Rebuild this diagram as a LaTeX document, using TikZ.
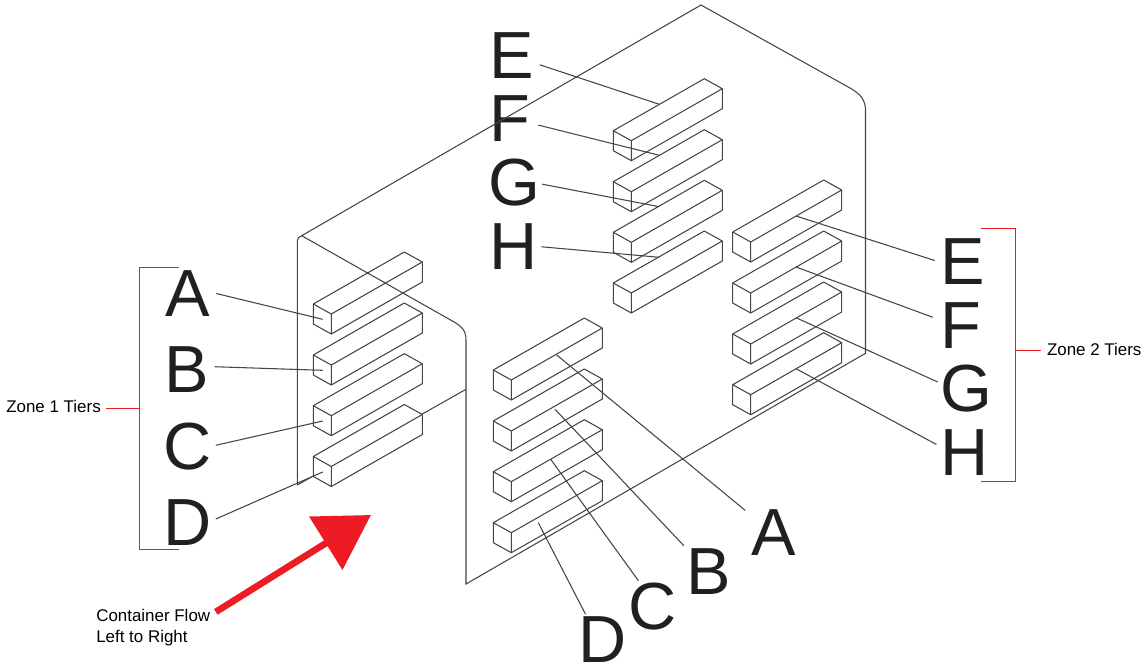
\documentclass[tikz,border=0pt]{standalone}
\usepackage{fontspec}
\setmainfont{Liberation Sans}
\usetikzlibrary{arrows.meta}
\definecolor{flowred}{HTML}{ED1C24}
\definecolor{inkline}{HTML}{454545}
\definecolor{inkletter}{HTML}{231F20}
\tikzset{
    panelline/.style={draw=inkline, line width=0.8pt},
    tierline/.style={draw=inkline, line width=0.8pt, line join=round},
    leaderline/.style={draw=inkline, line width=0.8pt},
    tierletter/.style={font=\fontsize{50}{50}\selectfont, text=inkletter, text height=36pt, text depth=0pt, minimum width=42pt, minimum height=36pt, inner sep=0pt},
    smalltext/.style={font=\fontsize{12.7}{15.75}\selectfont, text=black, align=left, inner xsep=4pt, inner ysep=0pt},
    bracketline/.style={draw=flowred, line width=0.8pt}
}
\begin{document}
\begin{tikzpicture}[x=0.75pt, y=-0.75pt]
    \useasboundingbox (0,0) rectangle (1143,665);

    % Letters and leaders
    \foreach \name/\val/\lx/\ly/\ang/\ex/\ey in {
        la/A/188/292.5/-2/322.7/319.3,
        lb/B/186.5/368.7/4/322.7/370.3,
        lc/C/187.5/445.3/0/322.7/421,
        ld/D/187.5/521/4/322.7/472,
        ma/A/773.5/531.7/143/556.7/355,
        mb/B/709/570/136/555/409.3,
        mc/C/653/605/121/550.7/459.3,
        md/D/602.5/638.5/125/538.3/522.7,
        ue/E/511.5/54.5/-20/659.3/104.3,
        uf/F/510/117.5/-15/659.3/155.3,
        ug/G/514/181.7/-5/659.3/206.7,
        uh/H/513.2/245.3/-3/659.3/257.3,
        re/E/963/260.5/180/796/216,
        rf/F/961/324.3/166/796/267,
        rg/G/966/387.5/169/796/317.7,
        rh/H/964.7/451/167/796/368.7
    } {
        \node[tierletter] (\name) at (\lx,\ly) {\val};
        \coordinate (\name tip) at (\ex,\ey);
        \draw[leaderline] (\name.\ang) -- (\name tip);
    }

    % Panels
    \draw[panelline] (297.3,485) -- (297.3,241) .. controls (297.3,238) and (299,237) .. (301.7,235.7)
        -- (701,5) -- (850,88) .. controls (860,93.5) and (865.5,100) .. (865.5,110)
        -- (865.5,353.3) -- (466,584) -- (466,340) .. controls (466,330) and (461,326) .. (455,322.5)
        -- (301.7,235.7);
    \draw[panelline] (297.3,485) -- (313.3,476);
    \draw[panelline] (422.3,414) -- (466,389.3);

    % Tiers
    \foreach \x/\y in {
        313.3/304, 313.3/355, 313.3/405.7, 313.3/456.5,
        493.3/370, 493.3/421, 493.3/471.7, 493.3/522.7,
        613.3/130.7, 613.3/181.7, 613.3/232.3, 613.3/283,
        732.7/232, 732.7/283, 732.7/334, 732.7/384.7
    } {
        \draw[tierline] (\x,\y) -- ++(18,10) -- ++(91,-52) -- ++(-18,-10) -- cycle;
        \draw[tierline] (\x,\y) -- ++(0,20) -- ++(18,10) -- ++(0,-20);
        \draw[tierline] (\x+18,\y+30) -- ++(91,-52) -- ++(0,-20);
    }

    % Zone brackets
    \node[smalltext, anchor=west] (zoneone) at (0.7,406.2) {Zone 1 Tiers};
    \node[smalltext, anchor=west] (zonetwo) at (1041.4,349.5) {Zone 2 Tiers};
    \coordinate (zoneonejoin) at (139.5,408.3);
    \coordinate (zonetwojoin) at (1015.5,350.3);
    \draw[bracketline] (178.7,267.5) -- (139.5,267.5) -- (139.5,549.5) -- (178.7,549.5);
    \draw[bracketline] (981,228.5) -- (1015.5,228.5) -- (1015.5,481.5) -- (981,481.5);
    \draw[bracketline] (zoneone.east |- zoneonejoin) -- (zoneonejoin);
    \draw[bracketline] (zonetwojoin) -- (zonetwo.west |- zonetwojoin);

    % Flow arrow
    \node[smalltext, anchor=west] (flow) at (90.7,627.5) {Container Flow\\Left to Right};
    \coordinate (flowtip) at (371,515);
    \draw[draw=flowred, line width=5pt, -{Triangle[length=40pt, width=46pt, fill=flowred]}] (flow.14) -- (flowtip);
\end{tikzpicture}
\end{document}
